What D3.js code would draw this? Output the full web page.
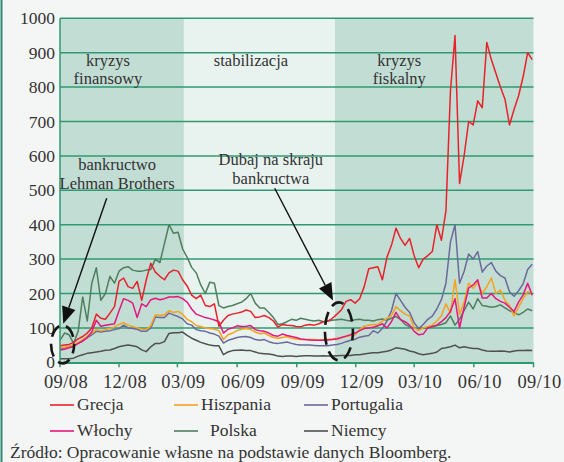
<!DOCTYPE html>
<html><head><meta charset="utf-8">
<script src="https://cdn.jsdelivr.net/npm/d3@7"></script>
<style>
html,body{margin:0;padding:0;background:#f4f6f5;}
svg{display:block;}
text{font-family:"Liberation Serif","Times New Roman",serif;fill:#333;}
</style>
</head><body>
<svg id="c" width="564" height="462"></svg>
<script>
// ---- data (weekly observations starting 2008-09-01), CDS spreads in bp ----
const firstWeek = "2008-09-01";
const grecja = [48,50,52,58,68,75,85,100,140,128,125,143,162,235,245,220,215,235,180,240,288,262,250,240,260,268,265,240,222,195,185,195,165,162,170,105,122,136,140,143,146,152,148,130,132,136,130,120,102,110,108,107,104,103,108,110,108,112,118,120,128,140,153,177,182,172,185,220,272,275,278,240,305,340,390,360,340,360,310,275,300,310,322,400,355,440,790,950,520,600,700,690,760,740,930,880,840,800,765,690,735,775,830,900,880];
const hiszpania = [42,44,47,50,58,66,76,84,95,92,95,98,103,110,115,108,104,100,96,95,106,138,136,138,150,145,148,140,125,118,107,104,100,98,96,92,66,80,85,92,96,98,95,88,83,85,78,72,70,72,74,70,68,66,66,66,66,65,66,67,68,70,72,75,78,80,95,105,108,110,110,120,128,135,162,150,140,135,100,92,100,104,108,120,135,170,143,240,140,175,230,215,232,200,220,245,200,210,180,165,135,160,185,205,200];
const portugalia = [40,42,45,48,55,62,72,80,90,88,90,92,95,98,108,100,98,96,90,90,100,132,130,130,143,138,133,126,112,108,95,92,90,85,82,76,56,64,68,72,74,75,72,66,64,66,60,56,55,57,59,55,52,50,50,50,49,48,48,48,50,52,55,60,64,67,73,76,78,92,85,98,120,150,200,180,160,145,115,98,110,125,134,155,182,230,350,400,230,264,315,300,322,262,280,290,265,252,245,205,192,208,228,270,285];
const wlochy = [36,38,42,46,55,62,72,88,122,105,108,110,112,150,185,180,172,130,170,162,182,186,182,185,190,190,191,185,175,155,140,135,130,127,123,118,85,96,100,106,104,105,107,95,92,90,85,78,76,82,78,75,72,68,66,65,64,64,64,65,66,68,72,76,80,85,92,98,100,102,106,112,100,118,145,124,118,108,90,80,82,100,104,108,118,130,148,185,100,160,216,225,240,187,187,200,185,177,172,160,148,175,196,230,195];
const polska = [64,85,80,55,90,190,120,230,275,180,200,250,230,265,275,278,268,265,265,268,270,300,290,345,400,375,378,330,305,276,260,225,200,233,230,165,158,162,165,170,175,185,200,172,158,158,145,130,110,112,118,125,122,128,125,122,120,122,118,120,122,124,125,122,120,124,125,122,122,120,124,126,122,128,133,125,110,103,100,97,100,100,103,107,110,115,135,108,125,150,175,155,185,165,163,160,162,167,158,150,145,138,145,155,150];
const niemcy = [10,10,10,12,18,22,26,28,30,32,35,36,40,45,48,50,48,45,36,31,45,55,55,60,84,86,86,88,78,70,64,58,54,50,48,48,22,30,34,35,36,34,34,30,26,25,24,22,18,17,18,18,17,18,19,19,18,18,19,18,18,19,20,20,20,22,22,24,26,28,28,30,32,36,42,40,38,33,30,25,22,24,26,30,40,42,45,50,42,45,42,40,40,36,33,32,32,33,32,30,33,34,34,35,34];

const seriesNames  = ["Grecja","Hiszpania","Portugalia","Włochy","Polska","Niemcy"];
const seriesColors = ["#e8222b","#f6a21d","#6c699b","#e5167f","#4f7f5f","#505050"];
const seriesValues = [grecja,hiszpania,portugalia,wlochy,polska,niemcy];
const drawOrder = ["Niemcy","Polska","Portugalia","Hiszpania","Włochy","Grecja"];

const tickDates  = ["2008-09-01","2008-12-01","2009-03-01","2009-06-01","2009-09-01","2009-12-01","2010-03-01","2010-06-01","2010-09-01"];
const tickLabels = ["09/08","12/08","03/09","06/09","09/09","12/09","03/10","06/10","09/10"];
const yTicks = [0,100,200,300,400,500,600,700,800,900,1000];

const periodStarts = ["2008-09-01","2009-03-11","2009-10-30"];
const periodEnds   = ["2009-03-11","2009-10-30","2010-09-01"];
const periodLabels = [["kryzys","finansowy"],["stabilizacja"],["kryzys","fiskalny"]];

const sourceText = "Źródło: Opracowanie własne na podstawie danych Bloomberg.";

// ---- scales ----
const parse = d3.timeParse("%Y-%m-%d");
const W = 564, H = 462;
const x = d3.scaleTime().domain([parse("2008-09-01"), parse("2010-09-01")]).range([60, 533.5]);
const y = d3.scaleLinear().domain([0, 1000]).range([362.3, 18.3]);
const dates = grecja.map((_, i) => d3.timeDay.offset(parse(firstWeek), 7 * i));

const svg = d3.select("#c");
svg.append("rect").attr("width", W).attr("height", H).attr("fill", "#f4f6f5");
svg.append("line").attr("x1", 1.5).attr("x2", 1.5).attr("y1", 0).attr("y2", H)
  .attr("stroke", "#2e8a72").attr("stroke-width", 2);

// bands
const bandFill = ["#c2ddd3", "#e8f2ee", "#c2ddd3"];
periodStarts.forEach((s, i) => {
  svg.append("rect")
    .attr("x", x(parse(s))).attr("y", y(1000))
    .attr("width", x(parse(periodEnds[i])) - x(parse(s)))
    .attr("height", y(0) - y(1000))
    .attr("fill", bandFill[i]);
});

// gridlines
const gridCol = "#2f9a72";
yTicks.forEach(v => {
  if (v === 0) return;
  svg.append("line").attr("x1", x.range()[0]).attr("x2", x.range()[1])
    .attr("y1", y(v)).attr("y2", y(v))
    .attr("stroke", gridCol).attr("stroke-width", 1.5);
});

// y labels
svg.append("g").selectAll("text").data(yTicks).join("text")
  .attr("x", 55).attr("y", d => y(d) + 6)
  .attr("text-anchor", "end").attr("font-size", 17.5)
  .text(d => d);

// period labels
const periodShift = [-14, -8.5, -35];
periodLabels.forEach((lines, i) => {
  const cx = (x(parse(periodStarts[i])) + x(parse(periodEnds[i]))) / 2 + periodShift[i];
  lines.forEach((t, j) => {
    svg.append("text").attr("x", cx).attr("y", y(862) + j * 18)
      .attr("text-anchor", "middle").attr("font-size", 16.5).text(t);
  });
});

// series lines
const line = d3.line().x((d, i) => x(dates[i])).y(d => y(d)).curve(d3.curveLinear);
drawOrder.forEach(name => {
  const k = seriesNames.indexOf(name);
  svg.append("path").datum(seriesValues[k])
    .attr("d", line).attr("fill", "none")
    .attr("stroke", seriesColors[k]).attr("stroke-width", 1.5)
    .attr("stroke-linejoin", "round");
});

// axes lines
svg.append("line").attr("x1", x.range()[0]).attr("x2", x.range()[0])
  .attr("y1", y(1000)).attr("y2", y(0) + 1).attr("stroke", gridCol).attr("stroke-width", 1.5);
svg.append("line").attr("x1", x.range()[0]).attr("x2", x.range()[1])
  .attr("y1", y(0) + 0.8).attr("y2", y(0) + 0.8).attr("stroke", gridCol).attr("stroke-width", 2);
const xg = svg.append("g");
tickDates.forEach((d, i) => {
  const px = x(parse(d));
  xg.append("line").attr("x1", px).attr("x2", px).attr("y1", y(0)).attr("y2", y(0) + 5)
    .attr("stroke", gridCol).attr("stroke-width", 1.5);
  xg.append("text").attr("x", px + 6).attr("y", 387.5).attr("text-anchor", "middle")
    .attr("font-size", 18.5).attr("letter-spacing", 0.4).text(tickLabels[i]);
});

// annotations: dashed ellipses
const ellipses = [
  {date: "2008-09-05", value: 52, rx: 11.5, ry: 19},
  {date: "2009-11-05", value: 90, rx: 14, ry: 29}
];
ellipses.forEach(e => {
  svg.append("ellipse").attr("cx", x(parse(e.date))).attr("cy", y(e.value))
    .attr("rx", e.rx).attr("ry", e.ry)
    .attr("fill", "none").attr("stroke", "#161616").attr("stroke-width", 2.6)
    .attr("stroke-dasharray", "13,7").attr("stroke-dashoffset", 4);
});

// arrows
const arrows = [
  {from: ["2008-11-12", 477], to: ["2008-09-06", 112]},
  {from: ["2009-07-29", 506], to: ["2009-10-27", 180]}
];
arrows.forEach(a => {
  const x1 = x(parse(a.from[0])), y1 = y(a.from[1]);
  const x2 = x(parse(a.to[0])), y2 = y(a.to[1]);
  const ang = Math.atan2(y2 - y1, x2 - x1);
  const L = 17, Wd = 7;
  const bx = x2 - L * Math.cos(ang), by = y2 - L * Math.sin(ang);
  svg.append("line").attr("x1", x1).attr("y1", y1).attr("x2", bx).attr("y2", by)
    .attr("stroke", "#111").attr("stroke-width", 1.4);
  const px = -Math.sin(ang), py = Math.cos(ang);
  svg.append("path")
    .attr("d", `M${x2},${y2}L${bx + Wd * px},${by + Wd * py}L${bx - Wd * px},${by - Wd * py}Z`)
    .attr("fill", "#111");
});

// annotation texts
const notes = [
  {lines: ["bankructwo", "Lehman Brothers"], date: "2008-11-28", value: 560},
  {lines: ["Dubaj na skraju", "bankructwa"], date: "2009-07-23", value: 573}
];
notes.forEach(n => {
  n.lines.forEach((t, j) => {
    svg.append("text").attr("x", x(parse(n.date))).attr("y", y(n.value) + j * 19)
      .attr("text-anchor", "middle").attr("font-size", 16.5).text(t);
  });
});

// legend
const legCols = [50, 174, 304];
const legRows = [405, 431];
seriesNames.forEach((name, k) => {
  const cx = legCols[k % 3], cy = legRows[Math.floor(k / 3)];
  svg.append("line").attr("x1", cx).attr("x2", cx + 24).attr("y1", cy).attr("y2", cy)
    .attr("stroke", seriesColors[k]).attr("stroke-width", 1.6);
  svg.append("text").attr("x", cx + 27 + (name === "Polska" ? 9 : 0)).attr("y", cy + 4.5)
    .attr("font-size", 17.5).text(name);
});

svg.append("text").attr("x", 10).attr("y", 458).attr("font-size", 17.5).text(sourceText);
</script>
</body></html>
